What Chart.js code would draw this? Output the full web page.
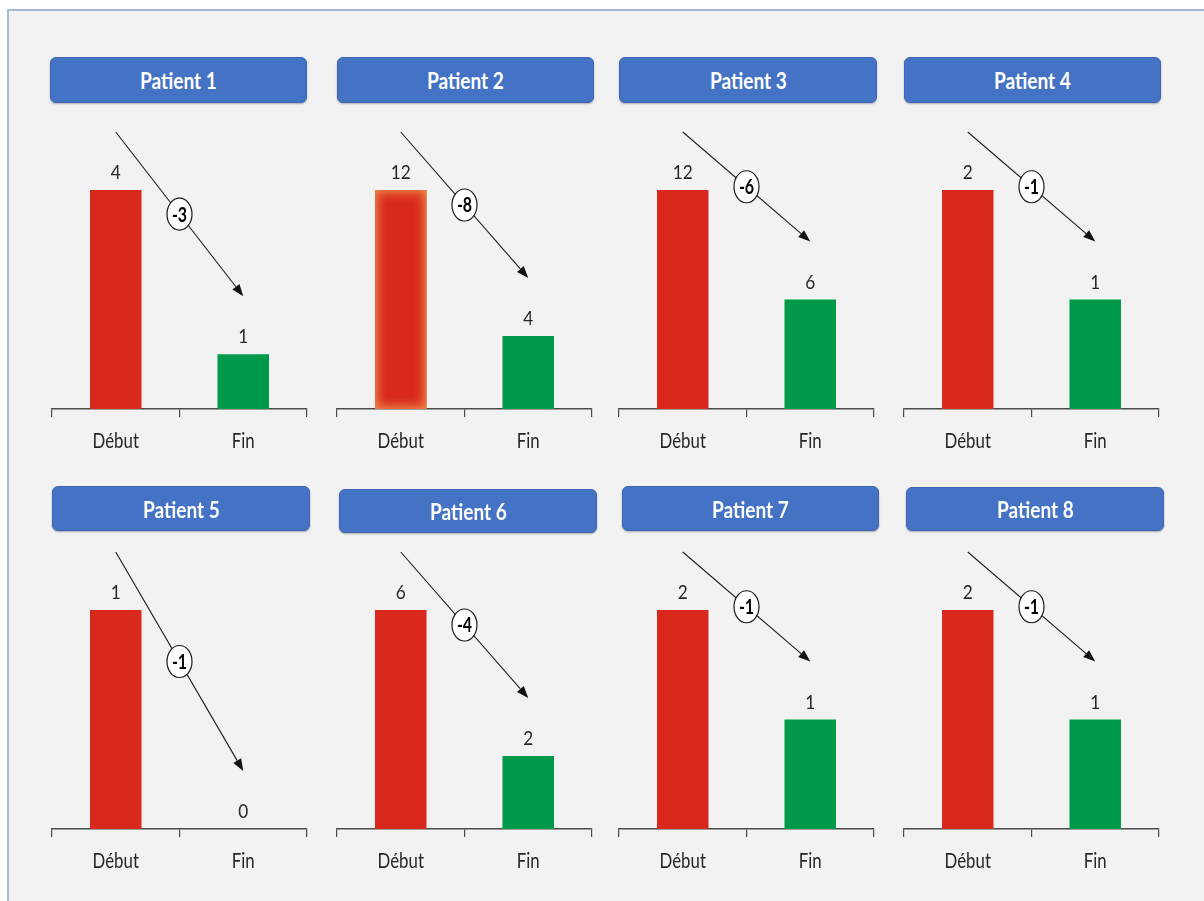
<!DOCTYPE html>
<html>
<head>
<meta charset="utf-8">
<title>Patients – Début / Fin</title>
<script src="https://cdn.jsdelivr.net/npm/chart.js@4.4.0/dist/chart.umd.min.js"></script>
<style>
  html, body { margin: 0; padding: 0; width: 1204px; height: 901px; overflow: hidden; background: #ffffff; }
  #frame { position: absolute; left: 7px; top: 9px; width: 1220px; height: 920px;
           background: #f2f2f2; border-left: 2px solid #a9b9d4; border-top: 2px solid #a9b9d4; }
  canvas { position: absolute; }
  .hdr { position: absolute; box-sizing: border-box; background: #4472c4; border: 1px solid #3d67b3;
         border-radius: 6px; box-shadow: 0 1px 2px rgba(0,0,0,0.3);
         color: #ffffff; font: bold 23px Lato, sans-serif;
         display: flex; align-items: center; justify-content: center; z-index: 2; }
  .hdr span { display: inline-block; transform: scaleX(0.83); white-space: nowrap; }
</style>
</head>
<body>
<div id="frame"></div>
<script>
// ---- data ----
const patients = ['Patient 1', 'Patient 2', 'Patient 3', 'Patient 4',
                  'Patient 5', 'Patient 6', 'Patient 7', 'Patient 8'];
const categories = ['Début', 'Fin'];
const debutValues = [4, 12, 12, 2, 1, 6, 2, 2];
const finValues   = [1, 4, 6, 1, 0, 2, 1, 1];

// ---- layout & style ----
const COL_LEFT = [52, 337, 619, 904];   // left end of each panel's axis line
const ROW_AXIS = [409, 829];            // y of the axis line for each row
const AXIS_W = 255;
const BAR_SPAN = 219;                   // px from axis to the top of the tallest bar
const HEADERS = [
  [50, 57, 257, 46], [337, 57, 257, 46], [619, 57, 258, 46], [904, 57, 257, 46],
  [52, 486, 258, 45], [339, 489, 258, 44], [622, 486, 257, 45], [906, 487, 258, 44]
];
const RED = '#d9291d';
const GREEN = '#00994a';
const TEXT = '#262626';
const FONT = 'Lato, "Noto Sans", sans-serif';
const NARROW = 0.8;            // horizontal squeeze applied to canvas text
const GLOW_PANEL = 1;          // panel whose Début bar carries an inner glow
const ARROW_LIFT = 58;         // arrow sits this many px above the bar tops

const PAD_TOP = 80, PAD_SIDE = 4, CANVAS_H = 355, AXIS_H = 42;

function narrowText(ctx, s, x, y, sx) {
  ctx.save();
  ctx.translate(x, y);
  ctx.scale(sx, 1);
  ctx.fillText(s, 0, 0);
  ctx.restore();
}

// Inner glow, value labels, category labels, difference arrow and its badge
const annotPlugin = {
  id: 'annot',
  afterDatasetsDraw(chart, args, opts) {
    const ctx = chart.ctx;
    const meta = chart.getDatasetMeta(0);
    const values = chart.data.datasets[0].data;
    const xs = chart.scales.x, ys = chart.scales.y;

    if (opts.glow) {
      const bar = meta.data[0];
      const l = bar.x - bar.width / 2, t = bar.y, w = bar.width, h = bar.base - bar.y;
      for (let k = 0; k < 2; k++) {
        ctx.save();
        ctx.beginPath(); ctx.rect(l, t, w, h); ctx.clip();
        ctx.shadowColor = 'rgba(236,132,72,1)';
        ctx.shadowBlur = 12;
        ctx.beginPath();
        ctx.rect(l - 60, t - 60, w + 120, h + 120);
        ctx.rect(l, t, w, h);
        ctx.fillStyle = '#e9845a';
        ctx.fill('evenodd');
        ctx.restore();
      }
    }

    ctx.save();
    ctx.fillStyle = TEXT;
    ctx.textAlign = 'center';
    ctx.textBaseline = 'alphabetic';
    // value labels above bars
    ctx.font = '20px ' + FONT;
    meta.data.forEach((bar, i) => {
      narrowText(ctx, String(values[i]), bar.x, bar.y - 11, 0.86);
    });
    // category labels under the axis, at the scale's tick positions
    ctx.font = '21px ' + FONT;
    xs.ticks.forEach((tk, i) => {
      narrowText(ctx, xs.getLabelForValue(tk.value), xs.getPixelForTick(i), xs.top + 39, NARROW);
    });
    ctx.restore();

    // arrow from Début to Fin
    const x0 = xs.getPixelForValue(0), x1 = xs.getPixelForValue(1);
    const y0 = ys.getPixelForValue(values[0]) - ARROW_LIFT;
    const y1 = ys.getPixelForValue(values[1]) - ARROW_LIFT;
    const ang = Math.atan2(y1 - y0, x1 - x0);
    const headLen = 12, headHalf = 4.5;
    const bx = x1 - headLen * Math.cos(ang), by = y1 - headLen * Math.sin(ang);
    ctx.save();
    ctx.strokeStyle = '#1a1a1a';
    ctx.lineWidth = 1.1;
    ctx.beginPath(); ctx.moveTo(x0, y0); ctx.lineTo(bx, by); ctx.stroke();
    ctx.fillStyle = '#111111';
    ctx.beginPath();
    ctx.moveTo(x1, y1);
    ctx.lineTo(bx + headHalf * Math.sin(ang), by - headHalf * Math.cos(ang));
    ctx.lineTo(bx - headHalf * Math.sin(ang), by + headHalf * Math.cos(ang));
    ctx.closePath(); ctx.fill();

    // difference badge at the middle of the arrow
    const mx = (x0 + x1) / 2, my = (y0 + y1) / 2;
    ctx.beginPath();
    ctx.ellipse(mx, my, 12.5, 16, 0, 0, Math.PI * 2);
    ctx.fillStyle = '#ffffff'; ctx.fill();
    ctx.lineWidth = 1.2; ctx.strokeStyle = '#1a1a1a'; ctx.stroke();
    const diff = values[1] - values[0];
    ctx.fillStyle = '#000000';
    ctx.font = 'bold 20px ' + FONT;
    ctx.textAlign = 'center';
    ctx.textBaseline = 'middle';
    narrowText(ctx, String(diff), mx, my + 1, NARROW);
    ctx.restore();
  }
};

patients.forEach((name, p) => {
  const col = p % 4, row = Math.floor(p / 4);

  const hdr = document.createElement('div');
  hdr.className = 'hdr';
  const [hx, hy, hw, hh] = HEADERS[p];
  hdr.style.left = hx + 'px'; hdr.style.top = hy + 'px';
  hdr.style.width = hw + 'px'; hdr.style.height = hh + 'px';
  const span = document.createElement('span');
  span.textContent = name;
  hdr.appendChild(span);
  document.body.appendChild(hdr);

  const cv = document.createElement('canvas');
  const cw = AXIS_W + 2 * PAD_SIDE;
  cv.width = cw; cv.height = CANVAS_H;
  cv.style.width = cw + 'px'; cv.style.height = CANVAS_H + 'px';
  cv.style.left = (COL_LEFT[col] - PAD_SIDE) + 'px';
  cv.style.top = (ROW_AXIS[row] - PAD_TOP - BAR_SPAN) + 'px';
  document.body.appendChild(cv);

  const values = [debutValues[p], finValues[p]];
  const top = Math.max(...values);

  new Chart(cv, {
    type: 'bar',
    data: {
      labels: categories,
      datasets: [{
        data: values,
        backgroundColor: [RED, GREEN],
        borderWidth: 0,
        barPercentage: 0.404,
        categoryPercentage: 1
      }]
    },
    options: {
      responsive: false,
      animation: false,
      devicePixelRatio: 1,
      layout: { padding: { top: PAD_TOP, left: PAD_SIDE, right: PAD_SIDE, bottom: CANVAS_H - PAD_TOP - BAR_SPAN - AXIS_H } },
      plugins: {
        legend: { display: false },
        tooltip: { enabled: false },
        annot: { glow: p === GLOW_PANEL }
      },
      scales: {
        x: {
          offset: true,
          grid: { offset: true, drawOnChartArea: false, drawTicks: true, tickLength: 8, color: '#4a4a4a', lineWidth: 1.2 },
          border: { display: true, color: '#4a4a4a', width: 1.4 },
          ticks: { display: false },
          afterFit: s => { s.height = AXIS_H; }
        },
        y: { display: false, min: 0, max: top }
      }
    },
    plugins: [annotPlugin]
  });
});
</script>
</body>
</html>
